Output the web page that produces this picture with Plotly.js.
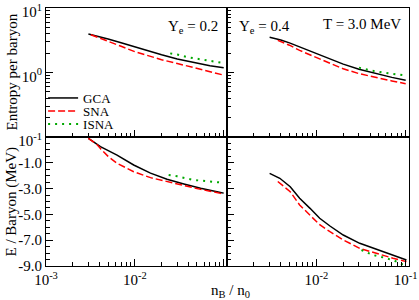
<!DOCTYPE html>
<html>
<head>
<meta charset="utf-8">
<script src="https://cdn.plot.ly/plotly-3.0.1.min.js"></script>
<style>html,body{margin:0;padding:0;background:#fff;}#chart{width:419px;height:300px;}</style>
</head>
<body>
<div id="chart"></div>
<script>
// ---- Data (n_B / n_0 and values) ----
// Top-left: entropy per baryon, Ye = 0.2
const nGCA_S02 = [0.003, 0.004, 0.005, 0.007, 0.01, 0.015, 0.02, 0.03, 0.05, 0.07, 0.1];
const sGCA_S02 = [3.95, 3.6, 3.3, 2.9, 2.5, 2.08, 1.88, 1.62, 1.38, 1.27, 1.18];
const nSNA_S02 = [0.0032, 0.004, 0.005, 0.007, 0.01, 0.015, 0.02, 0.03, 0.05, 0.07, 0.1];
const sSNA_S02 = [3.85, 3.45, 3.05, 2.55, 2.1, 1.78, 1.58, 1.38, 1.15, 1.03, 0.91];
const nISNA_S02 = [0.025, 0.03, 0.04, 0.05, 0.07, 0.1];
const sISNA_S02 = [1.98, 1.9, 1.72, 1.63, 1.5, 1.4];

// Top-right: entropy per baryon, Ye = 0.4
const nGCA_S04 = [0.003, 0.004, 0.005, 0.0065, 0.0085, 0.011, 0.0142, 0.02, 0.03, 0.045, 0.07, 0.1];
const sGCA_S04 = [3.52, 3.2, 2.88, 2.5, 2.15, 1.85, 1.6, 1.35, 1.12, 0.97, 0.84, 0.76];
const nSNA_S04 = [0.0037, 0.005, 0.0065, 0.0085, 0.011, 0.0142, 0.02, 0.03, 0.045, 0.07, 0.1];
const sSNA_S04 = [3.15, 2.65, 2.2, 1.88, 1.6, 1.38, 1.14, 0.96, 0.84, 0.74, 0.67];
const nISNA_S04 = [0.03, 0.04, 0.055, 0.075, 0.1];
const sISNA_S04 = [1.19, 1.08, 1.0, 0.95, 0.9];

// Bottom-left: E / baryon (MeV), Ye = 0.2
const nGCA_E02 = [0.003, 0.0035, 0.0041, 0.0063, 0.0097, 0.015, 0.023, 0.0356, 0.055, 0.092, 0.1];
const eGCA_E02 = [0.9, 0.6, 0.25, -0.4, -1.17, -1.8, -2.28, -2.64, -2.98, -3.3, -3.35];
const nSNA_E02 = [0.003, 0.0037, 0.0041, 0.005, 0.0063, 0.0097, 0.015, 0.023, 0.0356, 0.055, 0.092, 0.1];
const eSNA_E02 = [0.9, 0.45, 0.1, -0.5, -1.04, -1.69, -2.15, -2.46, -2.72, -3.06, -3.37, -3.42];
const nISNA_E02 = [0.024, 0.03, 0.046, 0.07, 0.1];
const eISNA_E02 = [-1.95, -2.05, -2.33, -2.45, -2.55];

// Bottom-right: E / baryon (MeV), Ye = 0.4
const nGCA_E04 = [0.003, 0.0039, 0.0051, 0.0065, 0.0085, 0.0109, 0.0142, 0.02, 0.0306, 0.047, 0.072, 0.102];
const eGCA_E04 = [-1.82, -2.2, -2.85, -3.75, -4.53, -5.3, -5.9, -6.6, -7.24, -7.7, -8.15, -8.53];
const nSNA_E04 = [0.0037, 0.0051, 0.0065, 0.0085, 0.0109, 0.0142, 0.02, 0.0306, 0.047, 0.072, 0.102];
const eSNA_E04 = [-2.45, -3.24, -4.27, -5.05, -5.8, -6.34, -6.98, -7.63, -8.02, -8.4, -8.66];
const nISNA_E04 = [0.032, 0.043, 0.056, 0.075, 0.09, 0.1];
const eISNA_E04 = [-7.76, -8.15, -8.33, -8.59, -8.84, -8.9];

// Labels
const seriesNames = ["GCA", "SNA", "ISNA"];
const xTickVals = [0.001, 0.01, 0.1];
const xTickTextLeft = ["10<sup>-3</sup>", "10<sup>-2</sup>", ""];
const xTickTextRight = ["", "10<sup>-2</sup>", "10<sup>-1</sup>"];
const sTickVals = [0.1, 1, 10];
const sTickText = ["10<sup>-1</sup>", "10<sup>0</sup>", "10<sup>1</sup>"];
const eTickVals = [-9, -7, -5, -3, -1, 1];
const eTickText = ["-9.0", "-7.0", "-5.0", "-3.0", "-1.0", ""];

// ---- Styles ----
const FONT = "Liberation Serif, Times New Roman, serif";
const styles = [
  {color: "#000000", width: 1.5, dash: "solid"},
  {color: "#ff0000", width: 1.5, dash: "7px,3px"},
  {color: "#00a800", width: 2, dash: "2px,5px"}
];

function tr(x, y, k, xa, ya, show, leg) {
  const t = {x: x, y: y, type: "scatter", mode: "lines", name: seriesNames[k],
    line: styles[k], xaxis: xa, yaxis: ya, showlegend: show, hoverinfo: "skip"};
  if (leg) t.legend = leg;
  return t;
}

const data = [
  tr(nGCA_S02, sGCA_S02, 0, "x", "y", true, "legend"),
  tr(nSNA_S02, sSNA_S02, 1, "x", "y", true, "legend2"),
  tr(nISNA_S02, sISNA_S02, 2, "x", "y", true, "legend3"),
  tr(nGCA_S04, sGCA_S04, 0, "x2", "y2", false),
  tr(nSNA_S04, sSNA_S04, 1, "x2", "y2", false),
  tr(nISNA_S04, sISNA_S04, 2, "x2", "y2", false),
  tr(nGCA_E02, eGCA_E02, 0, "x3", "y3", false),
  tr(nSNA_E02, eSNA_E02, 1, "x3", "y3", false),
  tr(nISNA_E02, eISNA_E02, 2, "x3", "y3", false),
  tr(nGCA_E04, eGCA_E04, 0, "x4", "y4", false),
  tr(nSNA_E04, eSNA_E04, 1, "x4", "y4", false),
  tr(nISNA_E04, eISNA_E04, 2, "x4", "y4", false)
];

const minorX = [];
[0.001, 0.01].forEach(d => { for (let i = 2; i <= 9; i++) minorX.push(d * i); });
const minorS = [];
[0.1, 1].forEach(d => { for (let i = 2; i <= 9; i++) minorS.push(d * i); });
const minorE = [];
for (let v = -9; v <= 1; v += 0.5) minorE.push(v);

const dx = 181 / 363;
const base = {
  showgrid: false, zeroline: false, showline: true, mirror: true,
  linecolor: "#000", linewidth: 1, ticks: "inside", ticklen: 7, tickwidth: 1, tickcolor: "#000",
  tickfont: {family: FONT, size: 15, color: "#000"}, fixedrange: true,
  ticklabeloverflow: "allow"
};
function xa(domain, anchor, labels, text) {
  return Object.assign({}, base, {
    type: "log", range: [-3, -0.963], domain: domain, anchor: anchor,
    tickmode: "array", tickvals: xTickVals, ticktext: text || ["", "", ""], showticklabels: labels,
    minor: {tickmode: "array", tickvals: minorX, ticks: "inside", ticklen: 4, tickcolor: "#000"}
  });
}
function ys(domain, anchor, labels) {
  return Object.assign({}, base, {
    type: "log", range: [-1, 1], domain: domain, anchor: anchor,
    tickmode: "array", tickvals: sTickVals, ticktext: sTickText, showticklabels: labels,
    ticklabelshift: 4,
    minor: {tickmode: "array", tickvals: minorS, ticks: "inside", ticklen: 4, tickcolor: "#000"}
  });
}
function ye(domain, anchor, labels) {
  return Object.assign({}, base, {
    type: "linear", range: [-9, 1], domain: domain, anchor: anchor,
    tickmode: "array", tickvals: eTickVals, ticktext: eTickText, showticklabels: labels,
    minor: {tickmode: "array", tickvals: minorE, ticks: "inside", ticklen: 4, tickcolor: "#000"}
  });
}

const legFont = {family: FONT, size: 13, color: "#000"};
function leg(y) {
  return {x: -0.008, y: y, xanchor: "left", yanchor: "middle", bgcolor: "rgba(0,0,0,0)",
    font: legFont, itemwidth: 30, borderwidth: 0};
}

const annFont = {family: FONT, size: 15, color: "#000"};
const layout = {
  width: 419, height: 300, autosize: false,
  margin: {l: 46, r: 10, t: 8, b: 34, pad: 0},
  paper_bgcolor: "#fff", plot_bgcolor: "#fff",
  font: {family: FONT, color: "#000"},
  xaxis: xa([0, dx], "y", false),
  xaxis2: xa([dx, 1], "y2", false),
  xaxis3: xa([0, dx], "y3", true, xTickTextLeft),
  xaxis4: xa([dx, 1], "y4", true, xTickTextRight),
  yaxis: ys([0.5, 1], "x", true),
  yaxis2: ys([0.5, 1], "x2", false),
  yaxis3: ye([0, 0.5], "x3", true),
  yaxis4: ye([0, 0.5], "x4", false),
  legend: leg((266 - 98) / 258),
  legend2: leg((266 - 111) / 258),
  legend3: leg((266 - 124) / 258),
  annotations: [
    {text: "Y<sub>e</sub> = 0.2", xref: "paper", yref: "paper", x: (220 - 46) / 363, y: (266 - 27) / 258,
     xanchor: "right", yanchor: "middle", showarrow: false, font: annFont},
    {text: "Y<sub>e</sub> = 0.4", xref: "paper", yref: "paper", x: (237 - 46) / 363, y: (266 - 27) / 258,
     xanchor: "left", yanchor: "middle", showarrow: false, font: annFont},
    {text: "T = 3.0 MeV", xref: "paper", yref: "paper", x: (403 - 46) / 363, y: (266 - 24) / 258,
     xanchor: "right", yanchor: "middle", showarrow: false, font: annFont},
    {text: "Entropy per baryon", xref: "paper", yref: "paper", x: (11 - 46) / 363, y: 0.75,
     xanchor: "center", yanchor: "middle", textangle: -90, showarrow: false, font: annFont},
    {text: "E / Baryon (MeV)", xref: "paper", yref: "paper", x: (11 - 46) / 363, y: 0.25,
     xanchor: "center", yanchor: "middle", textangle: -90, showarrow: false, font: annFont},
    {text: "n<sub>B</sub> / n<sub>0</sub>", xref: "paper", yref: "paper", x: (230 - 46) / 363, y: (266 - 291) / 258,
     xanchor: "center", yanchor: "middle", showarrow: false, font: annFont}
  ]
};

Plotly.newPlot("chart", data, layout, {displayModeBar: false, staticPlot: true});
</script>
</body>
</html>
